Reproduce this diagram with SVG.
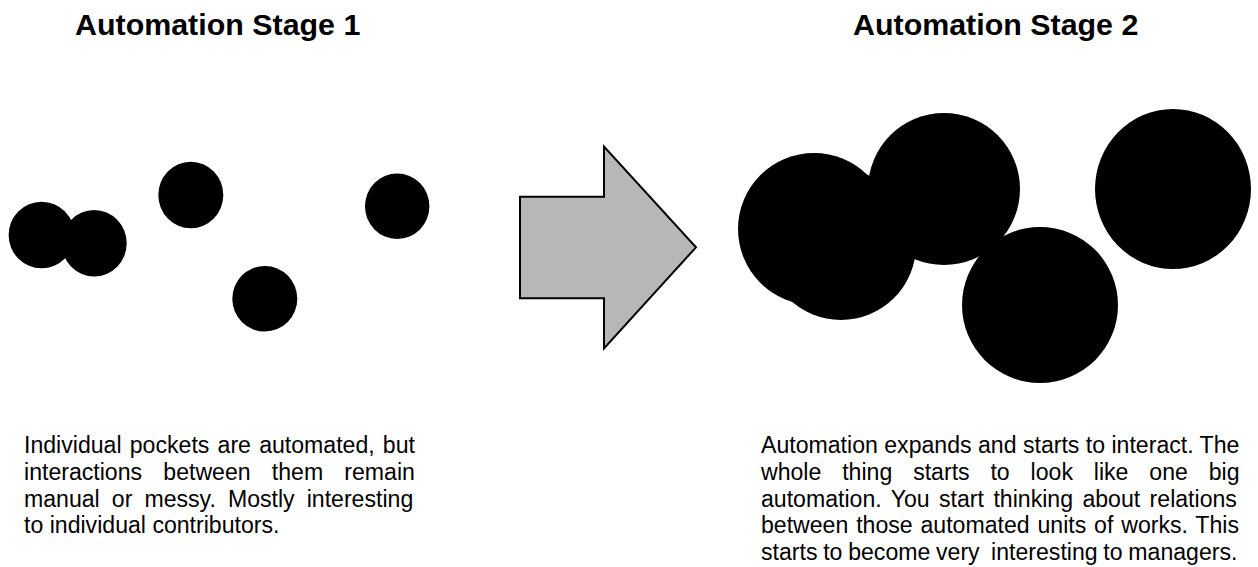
<svg xmlns="http://www.w3.org/2000/svg" width="1258" height="567" viewBox="0 0 1258 567">
  <style>
    .title { font-family: "Liberation Sans", Arial, sans-serif; font-weight: bold; font-size: 30.4px; fill: #000; }
    .body { font-family: "Liberation Sans", Arial, sans-serif; font-size: 23.1px; fill: #000; }
    .dot { fill: #000; }
    .block-arrow { fill: #b7b7b7; stroke: #000; stroke-width: 2; stroke-linejoin: miter; }
  </style>
  <rect width="1258" height="567" fill="#fff"/>

  <g id="stage1-title">
    <text class="title" x="75" y="35">Automation Stage 1</text>
  </g>
  <g id="stage2-title">
    <text class="title" x="853" y="35">Automation Stage 2</text>
  </g>

  <g id="stage1-units">
    <ellipse class="dot" cx="41.6" cy="235" rx="33" ry="33.3"/>
    <ellipse class="dot" cx="94.2" cy="243.3" rx="32.5" ry="33.3"/>
    <ellipse class="dot" cx="190.8" cy="195" rx="32.5" ry="33.3"/>
    <ellipse class="dot" cx="397.2" cy="206.2" rx="32.2" ry="32.8"/>
    <ellipse class="dot" cx="264.8" cy="298.8" rx="32.5" ry="32.8"/>
  </g>

  <g id="transition-arrow">
    <polygon class="block-arrow" points="520,196.7 604,196.7 604,146.7 696,247.3 604,348.3 604,298.3 520,298.3"/>
  </g>

  <g id="stage2-units">
    <circle class="dot" cx="814" cy="229" r="76"/>
    <circle class="dot" cx="841" cy="245" r="75"/>
    <circle class="dot" cx="944" cy="189" r="76"/>
    <circle class="dot" cx="1040" cy="305" r="78"/>
    <ellipse class="dot" cx="1173" cy="189" rx="78" ry="80"/>
  </g>

  <g id="stage1-description">
    <text class="body" x="24" y="453.3" style="word-spacing:1.78px">Individual pockets are automated, but</text>
    <text class="body" x="24" y="480" style="word-spacing:14.78px">interactions between them remain</text>
    <text class="body" x="24" y="506.7" style="word-spacing:5.65px">manual or messy. Mostly interesting</text>
    <text class="body" x="24" y="533.3">to individual contributors.</text>
  </g>

  <g id="stage2-description">
    <text class="body" x="761" y="453.3">Automation expands and starts to interact. The</text>
    <text class="body" x="761" y="480" style="word-spacing:14.44px">whole thing starts to look like one big</text>
    <text class="body" x="761" y="506.7" style="word-spacing:3px">automation. You start thinking about relations</text>
    <text class="body" x="761" y="533.3" style="word-spacing:1.43px">between those automated units of works. This</text>
    <text class="body" x="761" y="560" style="white-space:pre;word-spacing:-0.7px">starts to become very  interesting to managers.</text>
  </g>
</svg>
